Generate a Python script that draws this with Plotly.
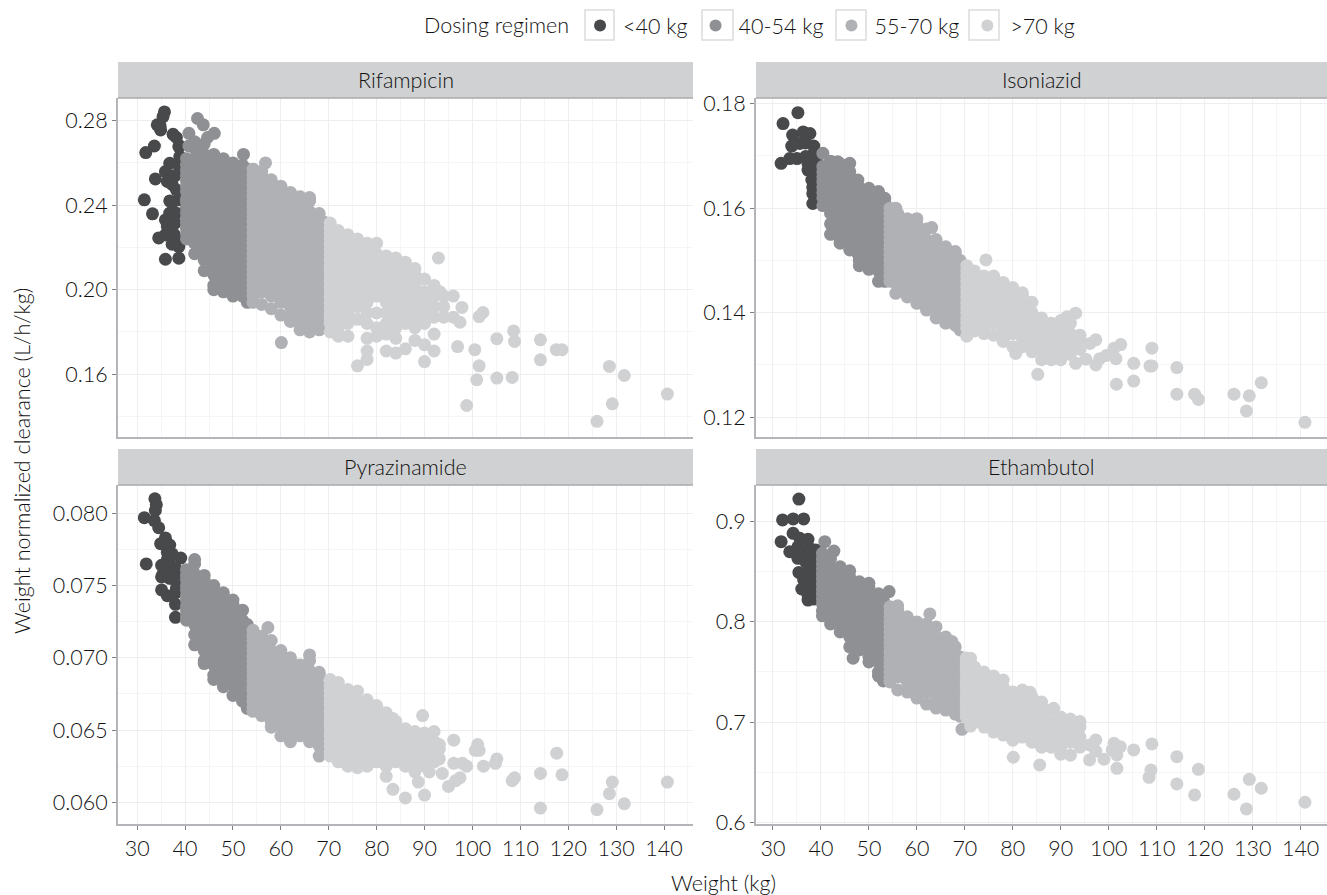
import plotly.graph_objects as go

GROUPS = ["<40 kg", "40-54 kg", "55-70 kg", ">70 kg"]
COLORS = ["#48494b", "#8f9094", "#b0b1b5", "#d0d1d3"]
PANELS = ["Rifampicin", "Isoniazid", "Pyrazinamide", "Ethambutol"]

# Each entry: (weight, [clearance values read at that weight])
rif_lt40 = [(31.5,[.2425]),(31.8,[.2649]),(33.6,[.268]),(33.2,[.2359]),(33.8,[.2524]),(34.2,[.278]),(34.8,[.2775]),(35.7,[.2841]),
 (35.4,[.2819]),(34.9,[.2756]),(37.5,[.2735]),(38.7,[.2677,.2204,.2149,.2425]),(38.9,[.263,.258,.268]),(36.8,[.2598,.242,.2362]),(35.9,[.2559,.233,.2259,.2144]),
 (36.3,[.2512,.2299]),(38.2,[.2472,.2236,.2362,.272]),(37.9,[.2362,.2315,.254]),(37.7,[.2315,.2262]),(34.5,[.2245]),(37.3,[.2267,.2215,.2498,.241])]
rif_40_54 = [(40.3,[.224,.2265,.229,.2315,.234,.2365,.239,.2415,.243,.2465,.249,.2515,.254,.2565,.259,.262]),(40.8,[.274,.268]),
 (42,[.217,.222,.227,.232,.237,.242,.247,.252,.257,.262,.267,.270]),(42.6,[.281]),(43.8,[.278]),(46.1,[.274]),(44.7,[.272]),
 (44,[.209,.214,.219,.224,.229,.234,.239,.244,.249,.254,.259,.264,.269]),
 (46,[.200,.202,.207,.212,.217,.222,.227,.232,.237,.242,.247,.252,.257,.262,.264]),
 (48,[.199,.204,.209,.214,.219,.224,.229,.234,.239,.244,.249,.254,.259,.262]),
 (50,[.197,.202,.207,.212,.217,.222,.227,.232,.237,.242,.247,.252,.257,.260]),
 (52,[.197,.199,.204,.209,.214,.219,.224,.229,.234,.239,.244,.249,.254,.259]),(52.2,[.264]),
 (53,[.194,.197,.202,.207,.212,.217,.222,.227,.232,.237,.242,.247,.252,.257])]
rif_55_70 = [(54.2,[.194,.197,.1995,.202,.2045,.207,.2095,.212,.2145,.217,.2195,.222,.2245,.227,.2295,.232,.2345,.237,.2395,.242,.2445,.247,.2495,.252,.2545,.257]),(56.8,[.260]),
 (56,[.193,.199,.204,.209,.214,.219,.224,.229,.234,.239,.244,.249,.254,.256]),
 (58,[.191,.197,.202,.207,.212,.217,.222,.227,.232,.237,.242,.247,.252]),
 (60,[.188,.194,.199,.204,.209,.214,.219,.224,.229,.234,.239,.244,.249]),(60.1,[.175]),
 (62,[.185,.187,.192,.197,.202,.207,.212,.217,.222,.227,.232,.237,.242,.246]),
 (64,[.181,.184,.189,.194,.199,.204,.209,.214,.219,.224,.229,.234,.239,.244]),
 (66,[.180,.182,.187,.192,.197,.202,.207,.212,.217,.222,.227,.232,.237,.242,.2436]),
 (68,[.181,.184,.189,.194,.199,.204,.209,.214,.219,.224,.229,.234,.236]),
 (69,[.183,.187,.192,.197,.202,.207,.212,.217,.222,.227,.232])]
rif_gt70 = [(70.3,[.180,.184,.1865,.189,.1915,.194,.1965,.199,.2015,.204,.2065,.209,.2115,.214,.2165,.219,.2215,.224,.2265,.229,.2315]),
 (72,[.178,.182,.187,.192,.197,.202,.207,.212,.217,.222,.227,.228]),
 (74,[.178,.184,.189,.194,.199,.204,.209,.214,.219,.224,.226]),
 (76,[.186,.192,.197,.202,.207,.212,.217,.222,.224,.164]),
 (78,[.177,.184,.189,.194,.199,.204,.209,.214,.219,.222,.171,.167]),
 (80,[.178,.182,.189,.197,.202,.207,.212,.217,.222]),
 (82,[.179,.184,.189,.194,.199,.204,.209,.214,.216,.171]),
 (84,[.177,.182,.187,.192,.197,.202,.207,.212,.215,.170]),
 (86,[.172,.184,.189,.194,.199,.204,.209,.213]),
 (88,[.176,.182,.187,.192,.197,.202,.207,.210]),
 (90,[.184,.189,.194,.199,.205,.166,.174]),
 (92,[.187,.192,.197,.202,.171,.179]),(92.9,[.215]),(93.2,[.199]),
 (94,[.187,.192,.197]),(96,[.187,.197]),(97.8,[.1916]),(97.4,[.1846]),(102.2,[.1892]),(101.4,[.1873,.164]),(108.6,[.1805]),(108.8,[.1755]),
 (105.1,[.1768,.1582]),(114.2,[.1763,.1668]),(117.5,[.1716]),(118.7,[.1716]),(100.5,[.1716]),(96.9,[.1731]),(100.9,[.1574]),(108.3,[.1585]),
 (98.8,[.1452]),(128.6,[.1637]),(131.7,[.1594]),(140.7,[.1506]),(129.2,[.146]),(126,[.1377])]

iso_lt40 = [(35.2,[.1783]),(32.1,[.1762]),(31.7,[.1686]),(34.1,[.174]),(36.3,[.1746]),(37.7,[.1743]),(33.9,[.1719]),(35.6,[.1724]),(38.5,[.1719,.1705]),
 (35,[.1695]),(36.8,[.1699,.1725]),(38.1,[.1692,.1654]),(37.3,[.1673,.1685]),(38.3,[.1628,.1609,.164]),(33.5,[.1695]),(39,[.169,.167,.165])]
iso_40_54 = [(40.4,[.1605,.162,.163,.164,.165,.166,.167,.168,.1705]),(42,[.155,.157,.159,.161,.163,.165,.167,.169]),(43.5,[.1689]),
 (44,[.1533,.154,.156,.158,.160,.162,.164,.166,.168,.1685]),(46,[.152,.153,.155,.157,.159,.161,.163,.165,.167,.1686]),
 (47.7,[.1513,.1654]),(48,[.149,.150,.152,.154,.156,.158,.160,.162,.164]),(50,[.1483,.149,.151,.153,.155,.157,.159,.161,.163,.1638]),
 (52,[.146,.148,.150,.152,.154,.156,.158,.160,.162,.1632]),(53.3,[.146,.147,.149,.151,.153,.155,.157,.159,.161,.1619])]
iso_55_70 = [(54.4,[.146,.147,.148,.149,.150,.151,.152,.153,.154,.155,.156,.157,.158,.159,.160]),(55.6,[.1437,.160]),(56,[.145,.147,.149,.151,.153,.155,.157,.159]),
 (58,[.143,.144,.146,.148,.150,.152,.154,.156,.158]),(60,[.1418,.143,.145,.147,.149,.151,.153,.155,.157,.158]),
 (62,[.1405,.142,.144,.146,.148,.150,.152,.154,.156]),(63.1,[.1563]),(64,[.139,.141,.143,.145,.147,.149,.151,.153,.154]),
 (66,[.138,.140,.142,.144,.146,.148,.150,.152,.1526]),(68,[.1376,.139,.141,.143,.145,.147,.149,.151,.1517]),(69,[.1367,.138,.140,.142,.144,.146,.148,.150])]
iso_gt70 = [(70.4,[.1355,.137,.138,.139,.140,.141,.142,.143,.144,.145,.146,.147,.148,.149]),(72,[.1365,.138,.140,.142,.144,.146,.148]),
 (74,[.136,.137,.139,.141,.143,.145,.147]),(74.4,[.1501]),(76,[.1357,.138,.140,.142,.144,.146,.147]),(78,[.1345,.135,.137,.139,.141,.143,.145,.1458]),
 (80,[.1335,.136,.138,.140,.142,.144,.1448]),(80.6,[.1322]),(82,[.1335,.135,.137,.139,.141,.143,.1438]),(84,[.1325,.134,.136,.138,.140,.142]),
 (85.2,[.1282]),(86,[.131,.133,.135,.137,.139]),(88,[.131,.132,.134,.136,.138]),(90,[.131,.133,.135,.137,.1385]),(91.3,[.1392]),(92,[.132,.134,.136,.138]),
 (93.1,[.1399,.1303]),(94,[.133,.135,.1357]),(95.2,[.1311]),(96.1,[.1341]),(97.3,[.1348,.130]),(98.1,[.1312]),(99.5,[.1318]),(101.1,[.1332]),(102.5,[.1339]),(101.5,[.1312]),
 (105.2,[.1303,.1269]),(101.6,[.1263]),(108.6,[.1298]),(109,[.1332,.1298]),(114.2,[.1295,.1244]),(117.9,[.1244]),(118.7,[.1234]),(126.1,[.1244]),
 (129.3,[.1241]),(128.7,[.1212]),(131.8,[.1266]),(140.9,[.119])]

pyr_lt40 = [(33.7,[.0810]),(34,[.0806]),(33.8,[.0802]),(31.5,[.0797]),(33.6,[.0795]),(34.5,[.079]),(31.9,[.0765]),(35.9,[.0783]),(34.9,[.0779]),(36.3,[.0773,.0743,.0768,.0762]),
 (39.1,[.0769,.0755,.0748]),(35.1,[.0764,.0747,.0756]),(36.8,[.0765,.0755,.0778]),(35.4,[.0758]),(37.3,[.0755,.0772,.0762]),(38,[.0737,.0728,.0762,.0745]),(38.2,[.0748,.0755])]
pyr_40_54 = [(40.3,[.0726,.0729,.0733,.0736,.0740,.0743,.0747,.0750,.0754,.0757,.0761]),
 (42,[.0709,.0716,.0723,.0730,.0737,.0744,.0751,.0758,.0765,.0768]),
 (44,[.0696,.0698,.0705,.0712,.0719,.0726,.0733,.0740,.0747,.0754,.0757]),
 (46,[.0685,.0688,.0695,.0702,.0709,.0716,.0723,.0730,.0737,.0744,.0750]),
 (48,[.0680,.0684,.0691,.0698,.0705,.0712,.0719,.0726,.0733,.0740,.0745]),
 (50,[.0674,.0681,.0688,.0695,.0702,.0709,.0716,.0723,.0730,.0737,.074]),
 (52,[.0670,.0677,.0684,.0691,.0698,.0705,.0712,.0719,.0726,.0733]),
 (53,[.0665,.0667,.0674,.0681,.0688,.0695,.0702,.0709,.0716,.0723])]
pyr_55_70 = [(54.2,[.0663,.0666,.0670,.0673,.0677,.0680,.0684,.0687,.0691,.0694,.0698,.0701,.0705,.0708,.0712,.0715,.0719]),
 (56,[.0660,.0667,.0674,.0681,.0688,.0695,.0702,.0709,.0715]),(57.3,[.0721]),
 (58,[.0652,.0656,.0663,.0670,.0677,.0684,.0691,.0698,.0705,.0712]),
 (60,[.0646,.0653,.0660,.0667,.0674,.0681,.0688,.0695,.0702,.0705]),
 (62,[.0642,.0649,.0656,.0663,.0670,.0677,.0684,.0691,.0698,.070]),
 (64,[.0646,.0653,.0660,.0667,.0674,.0681,.0688,.0695]),
 (66,[.0642,.0649,.0656,.0663,.0670,.0677,.0684,.0691,.0698,.0702]),
 (68,[.0632,.0639,.0646,.0653,.0660,.0667,.0674,.0681,.0688,.069]),
 (69,[.0635,.0642,.0649,.0656,.0663,.0670,.0677])]
pyr_gt70 = [(70.3,[.0632,.0635,.0639,.0642,.0646,.0649,.0653,.0656,.0660,.0663,.0667,.0670,.0674,.0677,.0681,.0685]),
 (72,[.0628,.0635,.0642,.0649,.0656,.0663,.0670,.0677,.0683]),
 (74,[.0625,.0632,.0639,.0646,.0653,.0660,.0667,.0674,.0678]),
 (76,[.0624,.0628,.0635,.0642,.0649,.0656,.0663,.0670,.0677]),
 (78,[.0625,.0632,.0639,.0646,.0653,.0660,.0667,.0671]),
 (80,[.0628,.0635,.0642,.0649,.0656,.0663,.0667]),
 (82,[.0618,.0625,.0632,.0639,.0646,.0653,.0660,.0662]),
 (83.4,[.0609,.0658]),(84,[.0628,.0635,.0642,.0649,.0656]),
 (86,[.0603,.0625,.0632,.0639,.0646,.0651]),(88,[.0621,.0628,.0635,.0642,.0649]),(88.7,[.0614]),(89.6,[.066]),
 (90,[.0605,.0625,.0632,.0639,.0646,.0648]),(91,[.0621]),(92,[.0628,.0635,.0642,.0649]),(93.1,[.063,.0637,.064]),(93.7,[.062]),(95,[.0611]),(96.1,[.0643,.0627]),(96.5,[.0615]),(97.9,[.0627]),(97.4,[.0617]),
 (98.8,[.0625]),(100.6,[.0636]),(101.1,[.064]),(101.4,[.0636]),(102.3,[.0625]),(105.1,[.063]),(104.8,[.0627]),(108.8,[.0617]),(108.3,[.0615]),(114.2,[.062,.0596]),
 (117.6,[.0634]),(118.7,[.0619]),(126,[.0595]),(129.2,[.0614]),(128.6,[.0606]),(131.7,[.0599]),(140.7,[.0614])]

eth_lt40 = [(35.4,[.9226,.8494]),(32,[.9017]),(34.2,[.9027,.8884]),(36.4,[.9027,.8418]),(31.7,[.88]),(35.6,[.8834]),(37.3,[.8824,.8268,.8218,.85,.84]),(33.5,[.87]),(35.2,[.875,.8634]),
 (36.8,[.87,.86]),(38.9,[.8717,.8518,.86]),(38.5,[.86,.8228,.8335,.845]),(36,[.8328]),(37.5,[.874,.864])]
eth_40_54 = [(40.8,[.88]),(42.7,[.8707]),(40.3,[.8684,.863,.858,.853,.848,.843,.838,.833,.828,.823,.818,.811,.806]),(42,[.798,.803,.813,.823,.833,.843,.853,.863]),
 (44,[.79,.80,.81,.82,.83,.84,.85,.855]),(46,[.775,.785,.795,.805,.815,.825,.835,.845,.851]),(46.7,[.7637]),(48,[.772,.78,.79,.80,.81,.82,.83,.84]),
 (50,[.76,.765,.775,.785,.795,.805,.815,.825,.835,.8385]),(52,[.746,.75,.76,.77,.78,.79,.80,.81,.82,.828]),(53,[.741,.755,.765,.775,.785,.795,.805,.815,.822]),(54.2,[.8302])]
eth_55_70 = [(54.4,[.74,.745,.75,.755,.76,.765,.77,.775,.78,.785,.79,.795,.80,.805,.81,.815]),(56,[.732,.745,.755,.765,.775,.785,.795,.805,.812,.816]),(58,[.73,.74,.75,.76,.77,.78,.79,.80,.805]),
 (60,[.724,.735,.745,.755,.765,.775,.785,.795,.80]),(62,[.718,.73,.74,.75,.76,.77,.78,.79,.798]),(62.7,[.8079]),(64,[.714,.725,.735,.745,.755,.765,.775,.785,.795]),
 (66,[.712,.72,.73,.74,.75,.76,.77,.78,.785]),(67.3,[.7803]),(68,[.708,.715,.725,.735,.745,.755,.765,.775]),(69,[.706,.72,.73,.74,.75,.76,.765]),(69.4,[.6928])]
eth_gt70 = [(70.3,[.705,.71,.715,.72,.725,.73,.735,.74,.745,.75,.755,.76,.764]),(71.2,[.7637,.696]),(72,[.70,.71,.72,.73,.74,.75,.755]),(74,[.695,.705,.715,.725,.735,.745,.75]),
 (76,[.69,.70,.71,.72,.73,.74,.746]),(78,[.687,.695,.705,.715,.725,.735,.742]),(80,[.682,.69,.70,.71,.72,.73]),(80.1,[.6649]),(82,[.685,.695,.705,.715,.725,.732]),(83.6,[.7297]),
 (84,[.68,.69,.70,.71,.72,.725]),(85.6,[.6572]),(86,[.675,.685,.695,.705,.715,.72]),(88,[.675,.68,.69,.70,.712]),(88.5,[.7138]),(90,[.668,.675,.685,.695,.705]),
 (92,[.667,.68,.69,.70,.703]),(94,[.675,.685,.695,.7005]),(96,[.6622,.6772]),(97.3,[.6822,.671]),(99,[.6629]),(101.1,[.6788]),(102.4,[.6755]),(100.7,[.6722]),(101.7,[.6672,.6539]),
 (105.2,[.6722]),(109,[.6782]),(108.8,[.6522]),(108.4,[.6449]),(114.2,[.6655,.6383]),(118.7,[.6529]),(117.9,[.6273]),(126.1,[.628]),(129.3,[.6429]),(128.7,[.6133]),(131.8,[.634]),(140.9,[.62])]

PANEL_DATA = [[rif_lt40, rif_40_54, rif_55_70, rif_gt70], [iso_lt40, iso_40_54, iso_55_70, iso_gt70],
              [pyr_lt40, pyr_40_54, pyr_55_70, pyr_gt70], [eth_lt40, eth_40_54, eth_55_70, eth_gt70]]

rif_ticks = [0.16, 0.20, 0.24, 0.28]
iso_ticks = [0.12, 0.14, 0.16, 0.18]
pyr_ticks = [0.060, 0.065, 0.070, 0.075, 0.080]
eth_ticks = [0.6, 0.7, 0.8, 0.9]
Y_TICKS = [rif_ticks, iso_ticks, pyr_ticks, eth_ticks]
Y_FMT = [".2f", ".2f", ".3f", ".1f"]
Y_MINOR = [0.02, 0.01, 0.0025, 0.05]
Y_RANGE = [[0.1303, 0.2907], [0.1162, 0.1811], [0.0585, 0.08196], [0.5983, 0.9366]]
weight_ticks = [30, 40, 50, 60, 70, 80, 90, 100, 110, 120, 130, 140]
X_RANGE = [[26.0, 146.05], [26.46, 145.5], [26.0, 146.05], [26.46, 145.5]]

W, H = 1327, 895
TOP, BOT = 62, 824
def py(y):
    return (BOT - y) / (BOT - TOP)
BOX = [(118, 693, 98, 437), (756, 1327, 98, 437), (118, 693, 485, 824), (756, 1327, 485, 824)]
STRIP = [(62, 98), (62, 98), (449, 485), (449, 485)]
LEG_BOX = [(585, 614), (702, 733), (836, 866), (969, 999)]
FONT = "Lato"
FS = 21.5
TXT = "#111111"
LINE = "#b4b5b8"
TF = dict(family=FONT, size=FS, color=TXT, weight=300)

fig = go.Figure()
layout = {}
shapes, annos = [], []
for p, name in enumerate(PANELS):
    sfx = "" if p == 0 else str(p + 1)
    for g, cols in enumerate(PANEL_DATA[p]):
        xs = [w for w, ys in cols for _ in ys]
        ys = [v for _, vs in cols for v in vs]
        fig.add_trace(go.Scatter(x=xs, y=ys, mode="markers", name=GROUPS[g], legendgroup=GROUPS[g], showlegend=p == 0,
                                 xaxis="x" + sfx, yaxis="y" + sfx, hoverinfo="x+y",
                                 marker=dict(size=13, color=COLORS[g], line=dict(width=0))))
    x0, x1, y0, y1 = BOX[p]
    bottom = p >= 2
    layout["xaxis" + sfx] = dict(domain=[x0 / W, x1 / W], range=X_RANGE[p], anchor="y" + sfx, tickvals=weight_ticks,
        showticklabels=bottom, ticks="outside" if bottom else "", ticklen=4, tickcolor="#808080", showline=True, linecolor=LINE, linewidth=2,
        gridcolor="#eeeeef", gridwidth=1, zeroline=False, minor=dict(dtick=5, tick0=25, showgrid=True, gridcolor="#f5f5f6", gridwidth=1, ticks=""),
        tickfont=TF)
    layout["yaxis" + sfx] = dict(domain=[py(y1), py(y0)], range=Y_RANGE[p], anchor="x" + sfx, tickvals=Y_TICKS[p],
        tickformat=Y_FMT[p], ticks="outside", ticklen=4, tickcolor="#808080", showline=True, linecolor=LINE, linewidth=2,
        gridcolor="#eeeeef", gridwidth=1, zeroline=False, minor=dict(dtick=Y_MINOR[p], tick0=Y_TICKS[p][0], showgrid=True, gridcolor="#f5f5f6", gridwidth=1, ticks=""),
        tickfont=TF)
    s0, s1 = STRIP[p]
    shapes.append(dict(type="rect", xref="paper", yref="paper", x0=x0 / W, x1=x1 / W, y0=py(s1), y1=py(s0),
                       fillcolor="#d0d1d3", line=dict(width=0), layer="below"))
    shapes.append(dict(type="line", xref="paper", yref="paper", x0=x0 / W, x1=x1 / W, y0=py(s1), y1=py(s1),
                       line=dict(color="#a9aaad", width=1.5)))
    annos.append(dict(text=name, xref="paper", yref="paper", x=(x0 + x1) / 2 / W, y=py((s0 + s1) / 2), showarrow=False,
                      font=TF, xanchor="center", yanchor="middle"))

for b0, b1 in LEG_BOX:
    shapes.append(dict(type="rect", xref="paper", yref="paper", x0=b0 / W, x1=b1 / W, y0=py(40), y1=py(10),
                       fillcolor="white", line=dict(color="#dcdcde", width=1.5), layer="below"))

annos.append(dict(text="Weight (kg)", xref="paper", yref="paper", x=723 / W, y=py(883), showarrow=False,
                  font=TF, xanchor="center", yanchor="middle"))
annos.append(dict(text="Weight normalized clearance (L/h/kg)", xref="paper", yref="paper", x=22 / W, y=py(461), showarrow=False,
                  textangle=-90, font=TF, xanchor="center", yanchor="middle"))

fig.update_layout(width=W, height=H, margin=dict(l=0, r=0, t=TOP, b=H - BOT), autosize=False, paper_bgcolor="white", plot_bgcolor="white",
                  shapes=shapes, annotations=annos,
                  legend=dict(orientation="h", x=422 / W, xanchor="left", y=py(5), yanchor="top", itemwidth=36,
                              title=dict(text="Dosing regimen", side="left", font=TF),
                              font=TF, itemsizing="constant", bgcolor="rgba(0,0,0,0)"),
                  **layout)
fig.write_html("out.html", config={"displayModeBar": False}, post_script="document.body.style.margin='0';")
